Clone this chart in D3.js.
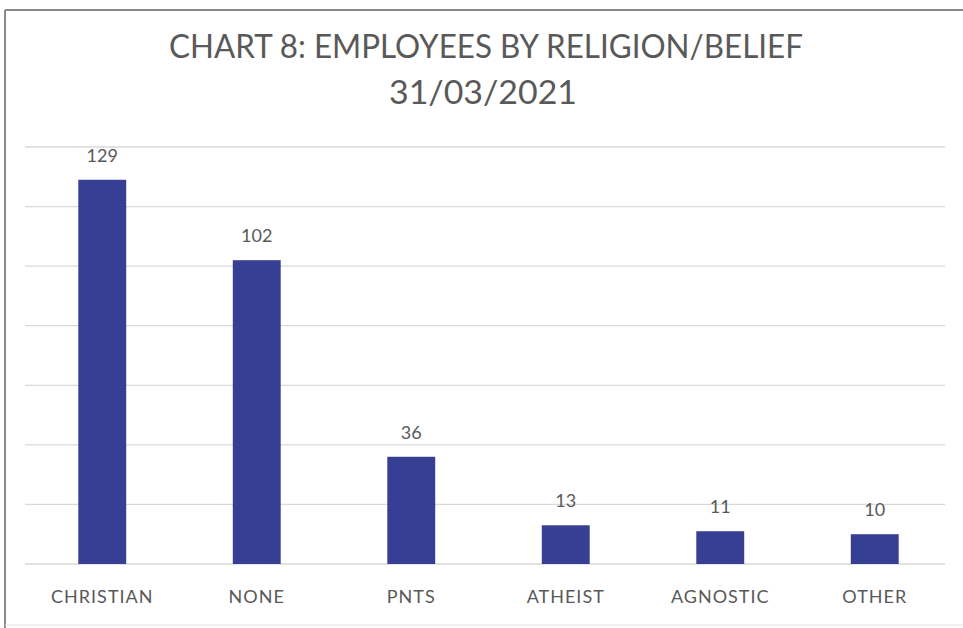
<!DOCTYPE html>
<html>
<head>
<meta charset="utf-8">
<script src="https://cdn.jsdelivr.net/npm/d3@7"></script>
<style>
  html, body { margin: 0; padding: 0; background: #fff; }
  svg { display: block; }
</style>
</head>
<body>
<svg id="chart" width="963" height="628"></svg>
<script>
// Employees by religion/belief at 31/03/2021
const categories = ["CHRISTIAN", "NONE", "PNTS", "ATHEIST", "AGNOSTIC", "OTHER"];
const values = [129, 102, 36, 13, 11, 10];
const gridTicks = [0, 20, 40, 60, 80, 100, 120, 140];
const titleLines = ["CHART 8: EMPLOYEES BY RELIGION/BELIEF", "31/03/2021"];

const svg = d3.select("#chart");
const font = "Lato, 'Open Sans', sans-serif";
const textColor = "#595959";

// outer frame
svg.append("line").attr("x1", 5).attr("x2", 963).attr("y1", 10).attr("y2", 10)
  .attr("stroke", "#8a8a8a").attr("stroke-width", 2);
svg.append("line").attr("x1", 5).attr("x2", 5).attr("y1", 10).attr("y2", 628)
  .attr("stroke", "#8a8a8a").attr("stroke-width", 2);
svg.append("line").attr("x1", 5).attr("x2", 963).attr("y1", 625).attr("y2", 625)
  .attr("stroke", "#e2e2e2").attr("stroke-width", 1);

const x = d3.scaleBand().domain(categories).range([25, 952]).paddingInner(0.69).paddingOuter(0.345);
const y = d3.scaleLinear().domain([0, 140]).range([564, 147]);

// horizontal gridlines
svg.append("g").selectAll("line").data(gridTicks).join("line")
  .attr("x1", 25).attr("x2", 945)
  .attr("y1", d => y(d)).attr("y2", d => y(d))
  .attr("stroke", "#d9d9d9").attr("stroke-width", 1.3);

// bars
svg.append("g").selectAll("rect").data(values).join("rect")
  .attr("x", (d, i) => x(categories[i]))
  .attr("width", x.bandwidth())
  .attr("y", d => y(d))
  .attr("height", d => y(0) - y(d))
  .attr("fill", "#363f94");

// value labels
svg.append("g").selectAll("text").data(values).join("text")
  .attr("x", (d, i) => x(categories[i]) + x.bandwidth() / 2)
  .attr("y", d => y(d) - 18)
  .attr("text-anchor", "middle")
  .attr("font-family", font).attr("font-size", 18)
  .attr("fill", textColor)
  .text(d => d);

// category axis labels
const xAxis = d3.axisBottom(x).tickSize(0).tickPadding(0);
const gx = svg.append("g").attr("transform", "translate(0,603)").call(xAxis);
gx.select(".domain").remove();
gx.selectAll("text")
  .attr("font-family", font).attr("font-size", 18)
  .attr("letter-spacing", 1)
  .attr("fill", textColor).attr("dy", 0).attr("y", 0);

// title
svg.append("text").attr("x", 486).attr("y", 58).attr("text-anchor", "middle")
  .attr("font-family", font).attr("font-size", 33).attr("fill", textColor)
  .attr("textLength", 634).attr("lengthAdjust", "spacingAndGlyphs")
  .text(titleLines[0]);
svg.append("text").attr("x", 483).attr("y", 104).attr("text-anchor", "middle")
  .attr("font-family", font).attr("font-size", 33).attr("fill", textColor)
  .attr("textLength", 188).attr("lengthAdjust", "spacingAndGlyphs")
  .text(titleLines[1]);
</script>
</body>
</html>
